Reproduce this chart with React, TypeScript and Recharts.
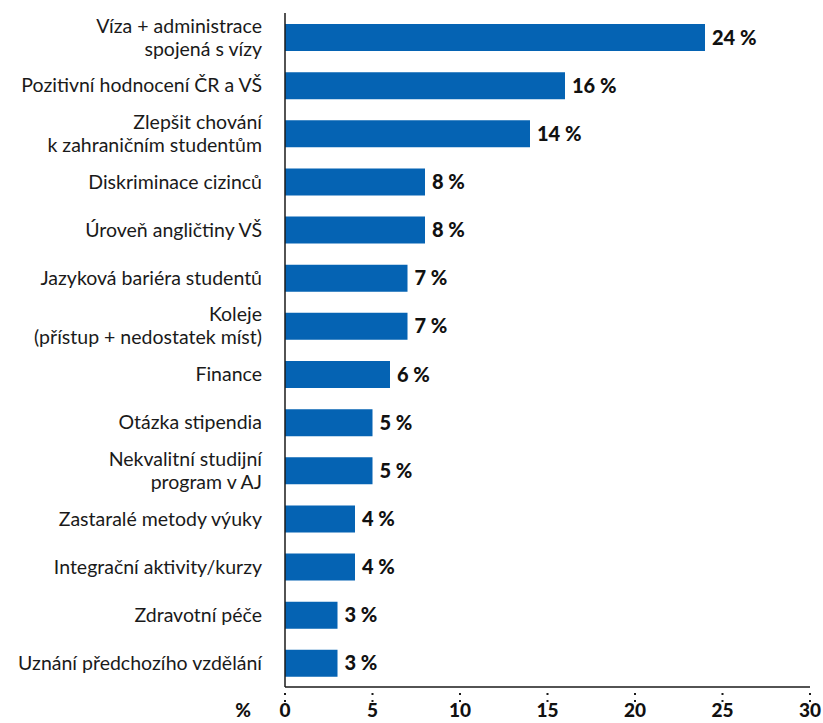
import React from "react";
import { BarChart, Bar, XAxis, YAxis, LabelList } from "recharts";

const categories = [
  "Víza + administrace\nspojená s vízy",
  "Pozitivní hodnocení ČR a VŠ",
  "Zlepšit chování\nk zahraničním studentům",
  "Diskriminace cizinců",
  "Úroveň angličtiny VŠ",
  "Jazyková bariéra studentů",
  "Koleje\n(přístup + nedostatek míst)",
  "Finance",
  "Otázka stipendia",
  "Nekvalitní studijní\nprogram v AJ",
  "Zastaralé metody výuky",
  "Integrační aktivity/kurzy",
  "Zdravotní péče",
  "Uznání předchozího vzdělání",
];
const values = [24, 16, 14, 8, 8, 7, 7, 6, 5, 5, 4, 4, 3, 3];
const xTicks = [0, 5, 10, 15, 20, 25, 30];

const data = categories.map((c, i) => ({ name: c, value: values[i] }));

const FONT = "Lato, 'Open Sans', sans-serif";

const YTick = (props: any) => {
  const { x, y, payload } = props;
  const lines = String(payload.value).split("\n");
  const lh = 23;
  const start = -((lines.length - 1) * lh) / 2;
  return (
    <text x={x} y={y} textAnchor="end" fill="#1a1a1a" fontSize={19.5} fontFamily={FONT}>
      {lines.map((l, i) => (
        <tspan key={i} x={x} y={y + start + i * lh} dy="0.36em">
          {l}
        </tspan>
      ))}
    </text>
  );
};

const XTick = (props: any) => {
  const { x, y, payload, index } = props;
  return (
    <g>
      <rect x={x - 1} y={y + 6} width={2} height={2} fill="#1a1a1a" />
      <rect x={x - 1} y={y + 13} width={2} height={2} fill="#1a1a1a" />
      <text x={x} y={y + 23} textAnchor="middle" dy="0.36em" fill="#111" fontSize={19} fontWeight={900} fontFamily={FONT}>
        {payload.value}
      </text>
      {index === 0 ? (
        <text x={x - 42} y={y + 23} textAnchor="middle" dy="0.36em" fill="#111" fontSize={19} fontWeight={900} fontFamily={FONT}>
          %
        </text>
      ) : null}
    </g>
  );
};

export default function App() {
  return (
    <div style={{ position: "absolute", left: 0, top: 0, width: 823, height: 723, background: "#fff" }}>
      <BarChart
        width={823}
        height={723}
        data={data}
        layout="vertical"
        margin={{ top: 13, right: 13, bottom: 0, left: 0 }}
      >
        <XAxis
          type="number"
          domain={[0, 30]}
          ticks={xTicks}
          interval={0}
          tickSize={0}
          tickMargin={0}
          height={36}
          axisLine={{ stroke: "#1a1a1a", strokeWidth: 1.5 }}
          tickLine={false}
          tick={<XTick />}
        />
        <YAxis
          type="category"
          dataKey="name"
          width={285}
          interval={0}
          tickSize={0}
          tickMargin={23}
          axisLine={{ stroke: "#1a1a1a", strokeWidth: 1.5 }}
          tickLine={false}
          tick={<YTick />}
        />
        <Bar dataKey="value" fill="#0563b3" barSize={27} isAnimationActive={false}>
          <LabelList
            dataKey="value"
            position="right"
            offset={7}
            formatter={(v: any) => `${v} %`}
            style={{ fill: "#111", fontSize: 20, fontWeight: 900, fontFamily: FONT }}
          />
        </Bar>
      </BarChart>
    </div>
  );
}
